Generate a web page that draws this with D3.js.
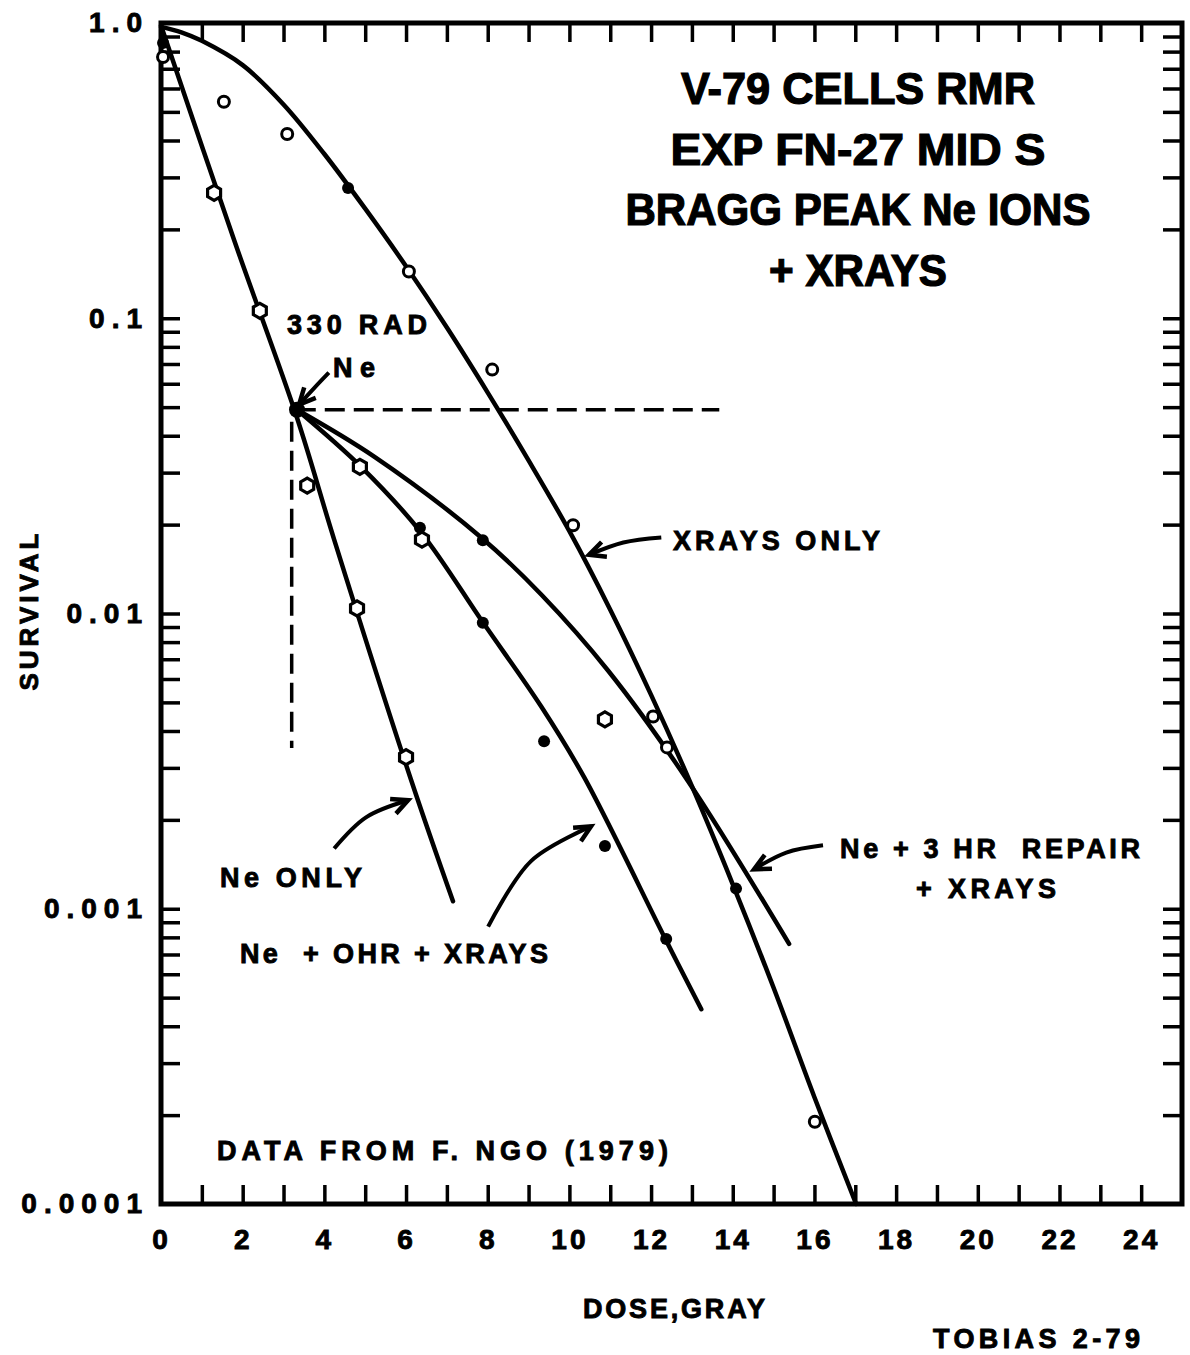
<!DOCTYPE html>
<html>
<head>
<meta charset="utf-8">
<script src="https://cdn.jsdelivr.net/npm/d3@7"></script>
<style>
  body { margin: 0; background: #fff; }
  svg text { font-family: "Liberation Sans", Arial, sans-serif; font-weight: bold; fill: #000; stroke: #000; stroke-width: 0.9px; }
</style>
</head>
<body>
<svg id="chart"></svg>
<script>
// axis labels
var doseLabels = [0, 2, 4, 6, 8, 10, 12, 14, 16, 18, 20, 22, 24];
var survivalDecades = [1, 0.1, 0.01, 0.001, 0.0001];
var survivalLabels = ["1.0", "0.1", "0.01", "0.001", "0.0001"];

// fitted curves (dose in gray, survival fraction)
var xrayCurveDose = [0, 0.5, 1, 2, 3, 4, 5, 6, 7, 8, 9, 10, 11, 12, 13, 14, 15, 16, 17.02];
var xrayCurveSurv = [0.97, 0.93, 0.87, 0.72, 0.53, 0.36, 0.235, 0.15, 0.093, 0.056, 0.033, 0.019, 0.0103, 0.0053, 0.0026, 0.00121, 0.00054, 0.00023, 0.0001];

var neCurveDose = [0, 1.79, 3.33, 4.24, 6.12, 7.15];
var neCurveSurv = [0.98, 0.184, 0.046, 0.0178, 0.00274, 0.00106];

var ohrCurveDose = [3.33, 4.9, 6.37, 7.89, 9.31, 10.36, 12.37, 13.23];
var ohrCurveSurv = [0.049, 0.0314, 0.0188, 0.0093, 0.00484, 0.00279, 0.00078, 0.000457];

var repairCurveDose = [3.33, 5.22, 7.84, 9.31, 10.95, 12.91, 15.38];
var repairCurveSurv = [0.049, 0.034, 0.0181, 0.0116, 0.0064, 0.0027, 0.00076];

// measured points by marker type
var openDose = [0.05, 1.54, 3.09, 6.07, 8.11, 10.09, 12.05, 12.39, 16.01];
var openSurv = [0.767, 0.541, 0.421, 0.144, 0.067, 0.0199, 0.00448, 0.00352, 0.00019];

var filledDose = [0.05, 4.58, 3.33, 6.34, 7.88, 7.88, 9.38, 10.87, 12.37, 14.08];
var filledSurv = [0.855, 0.276, 0.049, 0.0195, 0.0177, 0.0093, 0.00369, 0.00163, 0.00079, 0.00117];

var hexDose = [1.3, 2.42, 3.58, 4.87, 6.39, 4.8, 6.0, 10.87];
var hexSurv = [0.266, 0.106, 0.0271, 0.0314, 0.0178, 0.0104, 0.00326, 0.00438];

// 330 rad reference lines
var refDose = 3.3;
var refSurv = 0.049;
var refLineEndDose = 13.67;
var refLineEndSurv = 0.0035;

// annotation arrows [dose, survival], last point is the tip
var arrows = [
  [[4.11, 0.0654], [3.75, 0.058], [3.38, 0.051]],
  [[12.25, 0.0181], [11.32, 0.0174], [10.48, 0.0158]],
  [[16.21, 0.00164], [15.31, 0.00155], [14.52, 0.00136]],
  [[4.24, 0.0016], [5.02, 0.00204], [6.05, 0.00233]],
  [[8.01, 0.00087], [9.06, 0.00145], [10.53, 0.0019]]
];

var width = 1190, height = 1355;
var margin = {left: 161, right: 8, top: 23, bottom: 151};

var svg = d3.select("#chart")
            .attr("width", width)
            .attr("height", height);

var x = d3.scaleLinear()
          .domain([0, 25])
          .range([margin.left, width - margin.right]);

var y = d3.scaleLog()
          .domain([0.0001, 1])
          .range([height - margin.bottom, margin.top]);

function zip(a, b) {
  return a.map((d, i) => [d, b[i]]);
}

// minor log ticks inside each decade
var minorTicks = [];
for (var i = 1; i < survivalDecades.length; i++) {
  for (var m = 1; m < 10; m++) {
    var v = survivalDecades[i] * m;
    if (v > 0.0001 && v < 1) minorTicks.push(v);
  }
}

function styleTicks(g) {
  g.select(".domain").remove();
  g.selectAll(".tick line").attr("stroke", "#000").attr("stroke-width", 3.5);
}

// inward ticks on all four sides
svg.append("g")
   .attr("transform", "translate(0," + y(0.0001) + ")")
   .call(d3.axisBottom(x).tickValues(d3.range(1, 25)).tickSize(-19).tickFormat(""))
   .call(styleTicks);
svg.append("g")
   .attr("transform", "translate(0," + y(1) + ")")
   .call(d3.axisTop(x).tickValues(d3.range(1, 25)).tickSize(-19).tickFormat(""))
   .call(styleTicks);
svg.append("g")
   .attr("transform", "translate(" + x(0) + ",0)")
   .call(d3.axisLeft(y).tickValues(minorTicks).tickSize(-19).tickFormat(""))
   .call(styleTicks);
svg.append("g")
   .attr("transform", "translate(" + x(25) + ",0)")
   .call(d3.axisRight(y).tickValues(minorTicks).tickSize(-19).tickFormat(""))
   .call(styleTicks);

// tick labels
var xLab = svg.append("g")
   .attr("transform", "translate(0," + y(0.0001) + ")")
   .call(d3.axisBottom(x).tickValues(doseLabels).tickSize(0).tickPadding(25).tickFormat(d3.format("d")));
xLab.select(".domain").remove();
xLab.selectAll("text")
    .attr("font-size", 28)
    .attr("font-family", null)
    .style("letter-spacing", "3px");

var yLab = svg.append("g")
   .attr("transform", "translate(" + x(0) + ",0)")
   .call(d3.axisLeft(y).tickValues(survivalDecades).tickSize(0).tickPadding(12)
           .tickFormat(d => survivalLabels[survivalDecades.indexOf(d)]));
yLab.select(".domain").remove();
yLab.selectAll("text")
    .attr("font-size", 28)
    .attr("font-family", null)
    .style("letter-spacing", "7px");

// frame
svg.append("rect")
   .attr("x", x(0))
   .attr("y", y(1))
   .attr("width", x(25) - x(0))
   .attr("height", y(0.0001) - y(1))
   .attr("fill", "none")
   .attr("stroke", "#000")
   .attr("stroke-width", 5);

var plot = svg.append("g");

var line = d3.line()
             .x(d => x(d[0]))
             .y(d => y(d[1]))
             .curve(d3.curveCatmullRom.alpha(0.5));

[[xrayCurveDose, xrayCurveSurv],
 [neCurveDose, neCurveSurv],
 [ohrCurveDose, ohrCurveSurv],
 [repairCurveDose, repairCurveSurv]].forEach(c => {
  plot.append("path")
      .attr("d", line(zip(c[0], c[1])))
      .attr("fill", "none")
      .attr("stroke", "#000")
      .attr("stroke-width", 4.5)
      .attr("stroke-linecap", "round");
});

// dashed guides at 330 rad
plot.append("line")
    .attr("x1", x(refDose)).attr("y1", y(refSurv))
    .attr("x2", x(refLineEndDose)).attr("y2", y(refSurv))
    .attr("stroke", "#000").attr("stroke-width", 3.5)
    .attr("stroke-dasharray", "20,9");
plot.append("line")
    .attr("x1", x(3.2)).attr("y1", y(refSurv) + 12)
    .attr("x2", x(3.2)).attr("y2", y(refLineEndSurv))
    .attr("stroke", "#000").attr("stroke-width", 3.5)
    .attr("stroke-dasharray", "20,9");

// markers
plot.selectAll(".open")
    .data(zip(openDose, openSurv))
    .enter()
    .append("circle")
    .attr("cx", d => x(d[0]))
    .attr("cy", d => y(d[1]))
    .attr("r", 5.5)
    .attr("fill", "#fff")
    .attr("stroke", "#000")
    .attr("stroke-width", 3);

function hexPath(cx, cy, r) {
  var pts = d3.range(6).map(k => {
    var a = Math.PI / 6 + k * Math.PI / 3;
    return [cx + r * Math.cos(a), cy + r * Math.sin(a)];
  });
  return "M" + pts.join("L") + "Z";
}

plot.selectAll(".hex")
    .data(zip(hexDose, hexSurv))
    .enter()
    .append("path")
    .attr("d", d => hexPath(x(d[0]), y(d[1]), 7.5))
    .attr("fill", "#fff")
    .attr("stroke", "#000")
    .attr("stroke-width", 3.2);

plot.selectAll(".filled")
    .data(zip(filledDose, filledSurv))
    .enter()
    .append("circle")
    .attr("cx", d => x(d[0]))
    .attr("cy", d => y(d[1]))
    .attr("r", (d, i) => i === 2 ? 8 : 6)
    .attr("fill", "#000");

// arrows
var arrowLine = d3.line()
                  .x(d => x(d[0]))
                  .y(d => y(d[1]))
                  .curve(d3.curveCatmullRom);

arrows.forEach(a => {
  plot.append("path")
      .attr("d", arrowLine(a))
      .attr("fill", "none")
      .attr("stroke", "#000")
      .attr("stroke-width", 4);
  var tip = [x(a[2][0]), y(a[2][1])];
  var prev = [x(a[1][0]), y(a[1][1])];
  var ang = Math.atan2(tip[1] - prev[1], tip[0] - prev[0]);
  var h1 = [tip[0] - 18 * Math.cos(ang - 0.45), tip[1] - 18 * Math.sin(ang - 0.45)];
  var h2 = [tip[0] - 18 * Math.cos(ang + 0.45), tip[1] - 18 * Math.sin(ang + 0.45)];
  plot.append("path")
      .attr("d", "M" + h1 + "L" + tip + "L" + h2)
      .attr("fill", "none")
      .attr("stroke", "#000")
      .attr("stroke-width", 4.5)
      .attr("stroke-linejoin", "miter");
});

// title block
var titleLines = ["V-79 CELLS RMR", "EXP FN-27 MID S", "BRAGG PEAK Ne IONS", "+ XRAYS"];
var titleBase = [104, 165, 225, 286];
var titleWidth = [354, 375, 465, 178];
svg.selectAll(".title")
   .data(titleLines)
   .enter()
   .append("text")
   .attr("x", 858)
   .attr("y", (d, i) => titleBase[i])
   .attr("font-size", 44)
   .attr("textLength", (d, i) => titleWidth[i])
   .attr("lengthAdjust", "spacingAndGlyphs")
   .style("text-anchor", "middle")
   .style("stroke-width", "1.2px")
   .text(d => d);

// labels: text, left x, baseline y, width
var notes = [
  ["330 RAD", 287, 334, 140],
  ["Ne", 333, 377, 42],
  ["XRAYS ONLY", 673, 550, 207],
  ["Ne + 3 HR  REPAIR", 840, 858, 300],
  ["+ XRAYS", 916, 898, 140],
  ["Ne ONLY", 220, 887, 142],
  ["Ne  + OHR + XRAYS", 240, 963, 308],
  ["DATA FROM F. NGO (1979)", 217, 1160, 451],
  ["TOBIAS 2-79", 933, 1348, 207],
  ["DOSE,GRAY", 583, 1318, 182]
];
svg.selectAll(".note")
   .data(notes)
   .enter()
   .append("text")
   .attr("x", d => d[1])
   .attr("y", d => d[2])
   .attr("font-size", 27)
   .attr("textLength", d => d[3])
   .attr("lengthAdjust", "spacing")
   .style("white-space", "pre")
   .text(d => d[0]);

svg.append("text")
   .attr("transform", "translate(38,612) rotate(-90)")
   .attr("font-size", 26)
   .attr("textLength", 157)
   .attr("lengthAdjust", "spacing")
   .style("text-anchor", "middle")
   .text("SURVIVAL");
</script>
</body>
</html>
